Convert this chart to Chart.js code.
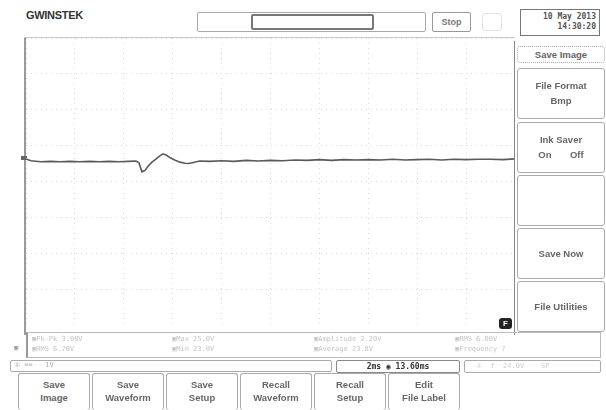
<!DOCTYPE html>
<html>
<head>
<meta charset="utf-8">
<script src="https://cdn.jsdelivr.net/npm/chart.js@4.4.1/dist/chart.umd.min.js"></script>
<style>
  html, body { margin: 0; padding: 0; background: #fff; }
  body { width: 606px; height: 410px; position: relative; overflow: hidden;
         font-family: "Liberation Sans", "DejaVu Sans", sans-serif; color: #555; }
  .abs { position: absolute; box-sizing: border-box; }
  .logo { left: 26px; top: 9px; font-weight: bold; font-size: 11px; color: #333; letter-spacing: -0.3px; }
  .btnbox { border: 1px solid #999; border-radius: 2px; }
  .menu { border: 1px solid #aaa; border-radius: 3px; text-align: center; font-size: 9.5px; font-weight: bold; color: #666; }
  .soft { font-family: "DejaVu Sans Mono", monospace; font-size: 7px; color: #c4c4c4; white-space: pre; }
  #plot { left: 26px; top: 38px; }
</style>
</head>
<body>
<div class="abs logo">GWINSTEK</div>

<!-- memory bar -->
<div class="abs btnbox" style="left:197px;top:12px;width:229px;height:20px;border-color:#aaa"></div>
<div class="abs" style="left:251px;top:14px;width:123px;height:16px;border:2px solid #777;border-radius:2px"></div>
<div class="abs btnbox" style="left:432px;top:12px;width:39px;height:20px;font-size:9px;font-weight:bold;text-align:center;line-height:18px;color:#777">Stop</div>
<div class="abs" style="left:482px;top:13px;width:20px;height:18px;border:1px solid #e2e2e2;border-radius:3px"></div>
<div class="abs" style="left:520px;top:9px;width:80px;height:27px;border:1px solid #777;font-family:'DejaVu Sans Mono',monospace;font-size:8px;font-weight:bold;color:#555;text-align:right;padding:2px 3px;line-height:10px">10 May 2013<br>14:30:20</div>

<!-- left frame line -->
<div class="abs" style="left:24px;top:37px;width:2px;height:298px;background:#999"></div>
<div class="abs" style="left:24px;top:37px;width:491px;height:1px;background:#c8c8c8"></div>
<div class="abs" style="left:21px;top:156px;width:6px;height:4px;background:#666"></div>

<canvas id="plot" class="abs" width="489" height="287"></canvas>

<!-- right soft-key menu -->
<div class="abs" style="left:514px;top:41px;width:1px;height:294px;background:#888"></div>
<div class="abs menu" style="left:517px;top:46px;width:88px;height:17px;line-height:15px;border-style:dotted">Save Image</div>
<div class="abs menu" style="left:517px;top:68px;width:88px;height:51px;padding-top:9px;line-height:15px">File Format<br>Bmp</div>
<div class="abs menu" style="left:517px;top:122px;width:88px;height:51px;padding-top:9px;line-height:15px">Ink Saver<br>On&nbsp;&nbsp;&nbsp;&nbsp;&nbsp;&nbsp;&nbsp;Off</div>
<div class="abs menu" style="left:517px;top:175px;width:88px;height:51px"></div>
<div class="abs menu" style="left:517px;top:228px;width:88px;height:51px;line-height:49px">Save Now</div>
<div class="abs menu" style="left:517px;top:281px;width:88px;height:51px;line-height:49px">File Utilities</div>
<div class="abs" style="left:499px;top:318px;width:13px;height:11px;background:#222;border-radius:3px;color:#fff;font-size:8px;font-weight:bold;text-align:center;line-height:11px">F</div>

<!-- measurement readout -->
<div class="abs" style="left:26px;top:332px;width:575px;height:26px;border:1px solid #bbb;border-left:2px solid #999"></div>
<div class="abs soft" style="left:32px;top:335px">&#9635;Pk-Pk 3.00V</div>
<div class="abs soft" style="left:32px;top:345px">&#9635;RMS 6.70V</div>
<div class="abs soft" style="left:172px;top:335px">&#9635;Max 25.0V</div>
<div class="abs soft" style="left:172px;top:345px">&#9635;Min 23.0V</div>
<div class="abs soft" style="left:314px;top:335px">&#9635;Amplitude 2.20V</div>
<div class="abs soft" style="left:314px;top:345px">&#9635;Average 23.8V</div>
<div class="abs soft" style="left:455px;top:335px">&#9635;RMS 6.00V</div>
<div class="abs soft" style="left:455px;top:345px">&#9635;Frequency ?</div>
<div class="abs soft" style="left:14px;top:344px;color:#999">&#9635;</div>

<!-- channel / timebase row -->
<div class="abs" style="left:10px;top:360px;width:322px;height:12px;border:1px solid #aaa;border-radius:2px"></div>
<div class="abs soft" style="left:14px;top:361px;color:#aaa">&#9312; ==   1V</div>
<div class="abs" style="left:336px;top:360px;width:124px;height:13px;border:1px solid #888;border-radius:2px;font-family:'DejaVu Sans Mono',monospace;font-size:8px;color:#333;line-height:11px;text-align:center;font-weight:bold">2ms &#9673; 13.60ms</div>
<div class="abs" style="left:464px;top:360px;width:137px;height:13px;border:1px solid #aaa;border-radius:2px"></div>
<div class="abs soft" style="left:476px;top:362px;color:#ccc">&#9312;  f  24.0V    SP</div>

<!-- bottom soft keys -->
<div class="abs menu" style="left:18px;top:373px;width:72px;height:37px;padding-top:4px;line-height:13px;border-bottom:none">Save<br>Image</div>
<div class="abs menu" style="left:92px;top:373px;width:72px;height:37px;padding-top:4px;line-height:13px;border-bottom:none">Save<br>Waveform</div>
<div class="abs menu" style="left:166px;top:373px;width:72px;height:37px;padding-top:4px;line-height:13px;border-bottom:none">Save<br>Setup</div>
<div class="abs menu" style="left:240px;top:373px;width:72px;height:37px;padding-top:4px;line-height:13px;border-bottom:none">Recall<br>Waveform</div>
<div class="abs menu" style="left:314px;top:373px;width:72px;height:37px;padding-top:4px;line-height:13px;border-bottom:none">Recall<br>Setup</div>
<div class="abs menu" style="left:388px;top:373px;width:72px;height:37px;padding-top:4px;line-height:13px;border-bottom:none">Edit<br>File Label</div>

<script>
// Captured trace: time in ms (2 ms/div, 10 div), level in vertical divisions from centre
const timeMs = [0.0, 0.2, 0.6, 1.0, 1.4, 1.8, 2.2, 2.6, 3.0, 3.4, 3.8, 4.2, 4.5, 4.62, 4.74, 4.87, 5.0, 5.15, 5.3, 5.45, 5.6, 5.75, 5.9, 6.1, 6.3, 6.5, 6.65, 6.85, 7.1, 7.5, 8.0, 8.5, 9.0, 9.5, 10.0, 10.5, 11.0, 11.5, 12.0, 12.5, 13.0, 13.5, 14.0, 14.5, 15.0, 15.5, 16.0, 16.5, 17.0, 17.5, 18.0, 18.5, 19.0, 19.5, 20.0];
const levelDiv = [0.63, 0.58, 0.55, 0.56, 0.55, 0.56, 0.55, 0.56, 0.55, 0.56, 0.55, 0.56, 0.57, 0.52, 0.27, 0.31, 0.43, 0.54, 0.62, 0.70, 0.77, 0.73, 0.66, 0.59, 0.54, 0.51, 0.50, 0.53, 0.57, 0.56, 0.58, 0.56, 0.59, 0.57, 0.59, 0.58, 0.60, 0.59, 0.61, 0.59, 0.61, 0.60, 0.61, 0.60, 0.62, 0.60, 0.61, 0.62, 0.60, 0.62, 0.61, 0.62, 0.62, 0.61, 0.63];
const xDivisions = 10;
const yDivisions = 8;

const points = timeMs.map((t, i) => ({ x: t, y: levelDiv[i] }));

new Chart(document.getElementById('plot'), {
  type: 'scatter',
  data: {
    datasets: [{
      data: points,
      showLine: true,
      borderColor: '#5a5a5a',
      borderWidth: 1.6,
      pointRadius: 0,
      tension: 0
    }]
  },
  options: {
    responsive: false,
    animation: false,
    layout: { padding: 0 },
    plugins: { legend: { display: false }, tooltip: { enabled: false } },
    scales: {
      x: {
        type: 'linear', min: 0, max: 20,
        ticks: { display: false, stepSize: 20 / xDivisions },
        grid: { color: '#d8d8d8', lineWidth: 1, drawTicks: false },
        border: { display: false, dash: [1, 4] }
      },
      y: {
        type: 'linear', min: -yDivisions / 2, max: yDivisions / 2,
        ticks: { display: false, stepSize: 1 },
        grid: { color: '#d8d8d8', lineWidth: 1, drawTicks: false },
        border: { display: false, dash: [1, 4] }
      }
    }
  }
});
</script>
</body>
</html>
